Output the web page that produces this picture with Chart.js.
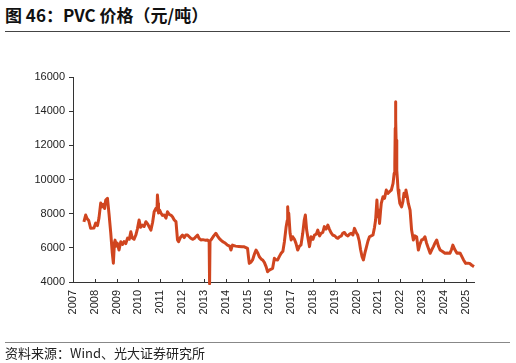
<!DOCTYPE html>
<html>
<head>
<meta charset="utf-8">
<script src="https://cdn.jsdelivr.net/npm/chart.js@4"></script>
<style>
  body { margin: 0; width: 516px; height: 363px; position: relative; background: #fff; overflow: hidden;
         font-family: "Noto Sans CJK SC", "Noto Sans", sans-serif; }
  #title { position: absolute; left: 5px; top: 2px; font-size: 17px; font-weight: bold; color: #111; }
  #rule1 { position: absolute; left: 5px; top: 31px; width: 505px; height: 1px; background: #444; }
  #rule2 { position: absolute; left: 5px; top: 342px; width: 505px; height: 1px; background: #888; }
  #source { position: absolute; left: 5px; top: 343px; font-size: 13px; color: #222; }
  #wrap { position: absolute; left: 0; top: 0; width: 516px; height: 363px; }
</style>
</head>
<body>
<div id="title">图 46：PVC 价格（元/吨）</div>
<div id="rule1"></div>
<div id="wrap"><canvas id="myChart"></canvas></div>
<div id="rule2"></div>
<div id="source">资料来源：Wind、光大证券研究所</div>
<script>
const dates = [
  2007.50, 2007.58, 2007.65, 2007.72, 2007.81, 2007.96, 2008.04, 2008.12, 2008.19, 2008.27,
  2008.33, 2008.39, 2008.45, 2008.50, 2008.58, 2008.65, 2008.73, 2008.80, 2008.85, 2008.90,
  2008.93, 2008.98, 2009.03, 2009.11, 2009.19, 2009.27, 2009.34, 2009.42, 2009.50, 2009.58,
  2009.65, 2009.72, 2009.80, 2009.88, 2009.95, 2010.03, 2010.10, 2010.18, 2010.26, 2010.34,
  2010.42, 2010.49, 2010.57, 2010.65, 2010.72, 2010.80, 2010.85, 2010.87, 2010.90, 2010.92,
  2010.97, 2011.03, 2011.10, 2011.18, 2011.26, 2011.33, 2011.42, 2011.50, 2011.56, 2011.64,
  2011.72, 2011.79, 2011.84, 2011.92, 2012.02, 2012.10, 2012.17, 2012.25, 2012.33, 2012.40,
  2012.48, 2012.56, 2012.63, 2012.71, 2012.78, 2012.86, 2012.95, 2013.05, 2013.17, 2013.24,
  2013.26, 2013.28, 2013.35, 2013.45, 2013.55, 2013.62, 2013.70, 2013.78, 2013.86, 2013.95,
  2014.08, 2014.18, 2014.24, 2014.31, 2014.45, 2014.60, 2014.75, 2014.85, 2015.00, 2015.04,
  2015.08, 2015.15, 2015.23, 2015.32, 2015.39, 2015.47, 2015.54, 2015.62, 2015.69, 2015.77,
  2015.85, 2015.92, 2016.00, 2016.08, 2016.15, 2016.23, 2016.30, 2016.38, 2016.46, 2016.54,
  2016.62, 2016.69, 2016.77, 2016.82, 2016.84, 2016.87, 2016.89, 2016.95, 2017.00, 2017.07,
  2017.15, 2017.22, 2017.30, 2017.38, 2017.45, 2017.53, 2017.60, 2017.65, 2017.71, 2017.78,
  2017.84, 2017.91, 2018.00, 2018.07, 2018.15, 2018.22, 2018.30, 2018.37, 2018.45, 2018.52,
  2018.60, 2018.68, 2018.75, 2018.82, 2018.90, 2019.00, 2019.07, 2019.14, 2019.22, 2019.30,
  2019.36, 2019.44, 2019.52, 2019.60, 2019.68, 2019.75, 2019.83, 2019.90, 2019.98, 2020.05,
  2020.12, 2020.18, 2020.25, 2020.31, 2020.38, 2020.44, 2020.52, 2020.59, 2020.67, 2020.75,
  2020.82, 2020.87, 2020.93, 2020.97, 2021.02, 2021.05, 2021.10, 2021.13, 2021.21, 2021.28,
  2021.36, 2021.44, 2021.52, 2021.59, 2021.67, 2021.72, 2021.75, 2021.77, 2021.78, 2021.80,
  2021.81, 2021.84, 2021.87, 2021.90, 2021.94, 2021.98, 2022.06, 2022.12, 2022.17, 2022.22,
  2022.26, 2022.32, 2022.37, 2022.45, 2022.52, 2022.60, 2022.67, 2022.75, 2022.83, 2022.90,
  2022.98, 2023.05, 2023.13, 2023.20, 2023.28, 2023.37, 2023.45, 2023.52, 2023.60, 2023.67,
  2023.75, 2023.83, 2023.92, 2024.05, 2024.15, 2024.28, 2024.35, 2024.41, 2024.50, 2024.60,
  2024.68, 2024.75, 2024.82, 2024.90, 2025.00, 2025.10, 2025.18, 2025.28, 2025.38
];

const prices = [
  7520, 7920, 7700, 7600, 7140, 7160, 7450, 7300, 7740, 8620,
  8400, 8550, 8300, 8800, 8900, 8000, 6870, 5700, 5100, 6300,
  6450, 6100, 6280, 5870, 6360, 6200, 6360, 6250, 6570, 6500,
  6940, 6570, 6500, 6750, 7100, 7630, 7200, 7330, 7250, 7530,
  7400, 7230, 7040, 7500, 8110, 8310, 8200, 9090, 8600, 8040,
  8200, 8040, 7900, 7920, 7740, 8110, 7950, 7900, 7820, 7630,
  7530, 6460, 6360, 6600, 6750, 6600, 6750, 6750, 6650, 6560,
  6500, 6550, 6650, 6750, 6550, 6460, 6480, 6450, 6460, 6360,
  3900, 6400, 6500, 6700, 6850, 6700, 6550, 6450, 6360, 6300,
  6160, 6100, 5870, 6160, 6100, 6080, 6060, 6060, 5970, 5500,
  5090, 5150, 5290, 5650, 5870, 5700, 5480, 5350, 5290, 5150,
  4900, 4600, 4700, 4750, 4800, 5390, 5300, 5290, 5500, 5680,
  5800, 6360, 7240, 7600, 8400, 7700, 8020, 6850, 6460, 6650,
  6500, 6260, 5870, 6100, 6160, 6850, 7630, 7920, 7040, 6500,
  6070, 6650, 6500, 6750, 6800, 7040, 6700, 6850, 6900, 7240,
  7100, 7330, 7100, 6900, 6750, 6700, 6600, 6560, 6650, 6700,
  6850, 6900, 6750, 6700, 6800, 6850, 6750, 7140, 6900, 6750,
  6400, 5900, 5480, 5290, 5700, 6000, 6400, 6650, 6700, 6750,
  7200, 7630, 8800, 7820, 8200, 7430, 8200, 8600, 8990, 8900,
  9380, 9190, 9300, 9380, 9770, 10360, 10940, 13000, 14550, 13500,
  12300, 10550, 10000, 9380, 9000, 8600, 8400, 8700, 9190, 9000,
  9380, 9000, 8600, 8210, 7040, 6460, 6700, 6650, 5870, 6200,
  6460, 6500, 6650, 6300, 6000, 5680, 5900, 6070, 6300, 6460,
  6100, 5870, 5800, 5680, 5700, 5680, 5900, 6160, 5900, 5680,
  5700, 5680, 5500, 5290, 5090, 5100, 5090, 4980, 4900
];

const yearTicks = [2007, 2008, 2009, 2010, 2011, 2012, 2013, 2014, 2015, 2016,
                   2017, 2018, 2019, 2020, 2021, 2022, 2023, 2024, 2025];
const yTicks = [4000, 6000, 8000, 10000, 12000, 14000, 16000];

const points = dates.map((d, i) => ({ x: d, y: prices[i] }));

// small inward tick marks on the x axis
const innerTicks = {
  id: 'innerTicks',
  afterDraw(chart) {
    const c = chart.ctx;
    const xs = chart.scales.x;
    const bottom = chart.chartArea.bottom;
    c.save();
    c.strokeStyle = '#333';
    c.lineWidth = 1;
    yearTicks.forEach(t => {
      const px = Math.round(xs.getPixelForValue(t)) + 0.5;
      c.beginPath();
      c.moveTo(px, bottom);
      c.lineTo(px, bottom - 3);
      c.stroke();
    });
    c.restore();
  }
};

const ctx = document.getElementById('myChart').getContext('2d');
ctx.canvas.width = 516;
ctx.canvas.height = 363;

const myChart = new Chart(ctx, {
  type: 'line',
  data: {
    datasets: [{
      data: points,
      borderColor: '#D0451F',
      borderWidth: 3,
      borderJoinStyle: 'round',
      pointRadius: 0,
      tension: 0,
      clip: { left: 0, top: 0, right: 4, bottom: 3 }
    }]
  },
  options: {
    responsive: false,
    animation: false,
    layout: { padding: { left: 0, top: 77, right: 42, bottom: 0 } },
    scales: {
      x: {
        type: 'linear',
        min: 2007,
        max: 2025.38,
        afterBuildTicks: scale => { scale.ticks = yearTicks.map(v => ({ value: v })); },
        afterFit: scale => { scale.height = 81; },
        ticks: {
          minRotation: 90,
          maxRotation: 90,
          autoSkip: false,
          padding: 0,
          color: '#222',
          font: { family: 'Liberation Sans', size: 11 },
          callback: v => String(v)
        },
        grid: { display: false },
        border: { display: true, color: '#333', width: 1 }
      },
      y: {
        min: 4000,
        max: 16000,
        afterBuildTicks: scale => { scale.ticks = yTicks.map(v => ({ value: v })); },
        afterFit: scale => { scale.width = 73; },
        ticks: {
          padding: 4,
          color: '#222',
          font: { family: 'Liberation Sans', size: 11 },
          callback: v => String(v)
        },
        grid: { display: true, drawOnChartArea: false, drawTicks: true, tickLength: 4, color: '#333' },
        border: { display: true, color: '#333', width: 1 }
      }
    },
    plugins: {
      legend: { display: false },
      tooltip: { enabled: false }
    }
  },
  plugins: [innerTicks]
});
</script>
</body>
</html>
